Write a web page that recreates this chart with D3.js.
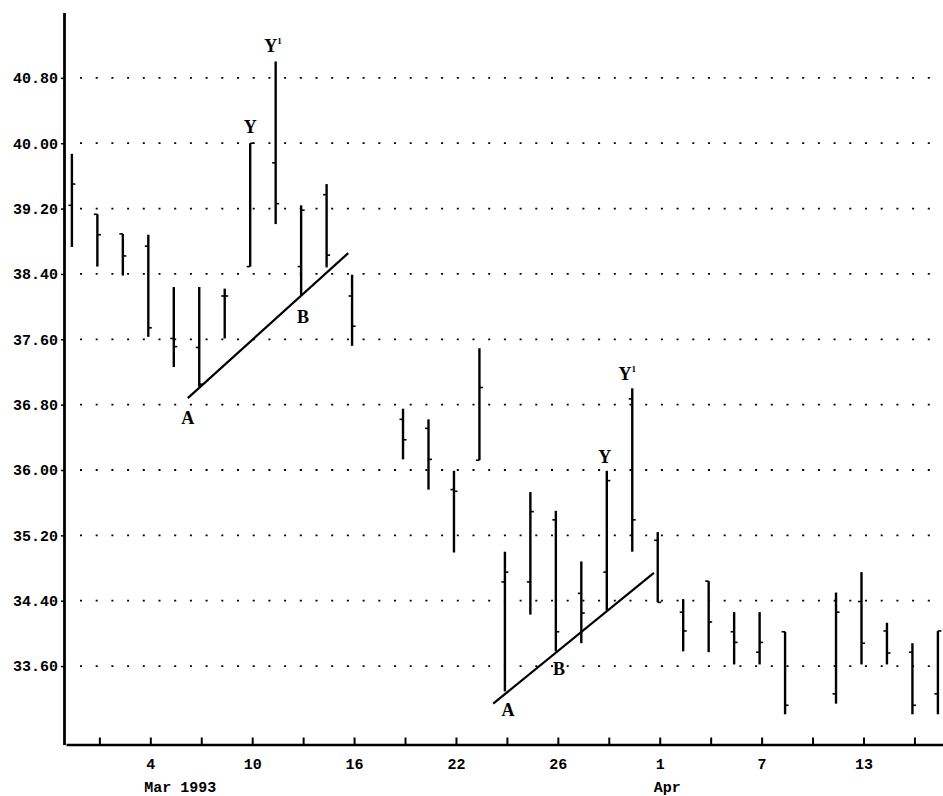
<!DOCTYPE html>
<html>
<head>
<meta charset="utf-8">
<script src="https://cdn.jsdelivr.net/npm/d3@7"></script>
<style>
  html, body { margin: 0; padding: 0; background: #fff; }
  svg { display: block; }
</style>
</head>
<body>
<script>
// ---- data ----
const dates = ["1993-03-01","1993-03-02","1993-03-03","1993-03-04","1993-03-05",
  "1993-03-08","1993-03-09","1993-03-10","1993-03-11","1993-03-12",
  "1993-03-15","1993-03-16","1993-03-18","1993-03-19",
  "1993-03-22","1993-03-23","1993-03-24","1993-03-25","1993-03-26",
  "1993-03-29","1993-03-30","1993-03-31","1993-04-01","1993-04-02",
  "1993-04-05","1993-04-06","1993-04-07","1993-04-08",
  "1993-04-12","1993-04-13","1993-04-14","1993-04-15","1993-04-16"];
const opens  = [39.24,39.13,38.89,38.74,37.61, 37.50,38.13,38.49,39.76,38.49, 39.37,38.13,36.62,36.51, 35.76,36.12,34.63,34.63,35.39, 34.49,34.75,36.87,35.14,34.26, 34.64,34.02,33.77,34.02, 33.26,34.39,34.03,33.77,33.26];
const highs  = [39.87,39.13,38.89,38.88,38.24, 38.24,38.22,40.00,41.00,39.24, 39.50,38.39,36.75,36.62, 35.99,37.49,35.00,35.73,35.50, 34.88,35.99,37.00,35.24,34.42, 34.64,34.26,34.26,34.02, 34.50,34.75,34.13,33.88,34.03];
const lows   = [38.73,38.49,38.38,37.63,37.26, 37.02,37.61,38.49,39.01,38.14, 38.48,37.52,36.13,35.76, 34.99,36.12,33.29,34.23,33.78, 33.88,34.28,35.00,34.38,33.78, 33.77,33.62,33.62,33.01, 33.14,33.62,33.62,33.01,33.01];
const closes = [39.50,38.88,38.62,37.74,37.51, 37.05,38.13,40.00,39.26,39.18, 38.63,37.76,36.37,36.13, 35.74,37.01,34.75,35.49,34.02, 34.25,35.87,35.39,34.38,34.03, 34.14,33.89,33.89,33.12, 34.26,33.88,33.76,33.12,34.03];

const yTicks = [33.60,34.40,35.20,36.00,36.80,37.60,38.40,39.20,40.00,40.80];
const xTickDates = ["1993-03-02","1993-03-04","1993-03-08","1993-03-10","1993-03-12","1993-03-16",
  "1993-03-18","1993-03-22","1993-03-24","1993-03-26","1993-03-30","1993-04-01","1993-04-05",
  "1993-04-07","1993-04-09","1993-04-13","1993-04-15"];
const xLabelDates = ["1993-03-04","1993-03-10","1993-03-16","1993-03-22","1993-03-26","1993-04-01","1993-04-07","1993-04-13"];
const xLabelTexts = ["4","10","16","22","26","1","7","13"];
const monthLabels = [{date:"1993-03-04", text:"Mar 1993"}, {date:"1993-04-01", text:"Apr"}];

// trend lines (start / end: date + fractional day offset, price)
const trendLines = [
  {d1:"1993-03-05", o1:0.55, p1:36.88, d2:"1993-03-15", o2:0.85, p2:38.655},
  {d1:"1993-03-23", o1:0.54, p1:33.14, d2:"1993-03-31", o2:0.85, p2:34.74}
];
// annotation labels
const notes = [
  {text:"A", date:"1993-03-05", off:0.55, price:36.56, sup:""},
  {text:"B", date:"1993-03-12", off:0.07, price:37.80, sup:""},
  {text:"Y", date:"1993-03-10", off:0,    price:40.12, sup:""},
  {text:"Y", date:"1993-03-11", off:-0.1, price:41.115, sup:"1"},
  {text:"A", date:"1993-03-24", off:0.12, price:32.99, sup:""},
  {text:"B", date:"1993-03-26", off:0.12, price:33.49, sup:""},
  {text:"Y", date:"1993-03-30", off:-0.08, price:36.08, sup:""},
  {text:"Y", date:"1993-03-31", off:-0.2, price:37.10, sup:"1"}
];

// ---- helpers ----
const parse = d3.utcParse("%Y-%m-%d");
const start = parse(dates[0]);
function dayIndex(s) {           // weekdays elapsed since the first date
  const dt = parse(s);
  let n = 0;
  for (let t = new Date(start); t < dt; t = d3.utcDay.offset(t, 1)) {
    const w = t.getUTCDay();
    if (w !== 0 && w !== 6) n++;
  }
  return n;
}
const bars = dates.map((d, i) => ({i: dayIndex(d), o: opens[i], h: highs[i], l: lows[i], c: closes[i]}));
const labelMap = new Map(xLabelDates.map((d, k) => [dayIndex(d), xLabelTexts[k]]));

// ---- drawing ----
const W = 943, H = 796;
const svg = d3.select("body").append("svg").attr("width", W).attr("height", H);

const x = d3.scaleLinear().domain([-0.31, 34.2]).range([64, 943]);
const y = d3.scaleLinear().domain([32.64, 41.6]).range([744.5, 12.5]);

const monoFont = "'Liberation Mono','Courier New',monospace";
const serifFont = "'Liberation Serif','Times New Roman',serif";

// dotted grid lines
svg.append("g").selectAll("line").data(yTicks).join("line")
  .attr("x1", 80).attr("x2", W)
  .attr("y1", d => y(d)).attr("y2", d => y(d))
  .attr("stroke", "#000").attr("stroke-width", 1.8)
  .attr("stroke-dasharray", "2,13.7");

// left axis
const gy = svg.append("g").attr("transform", `translate(${x.range()[0]},0)`)
  .call(d3.axisLeft(y).tickValues(yTicks).tickFormat(d3.format(".2f")).tickSize(3).tickSizeOuter(0).tickPadding(3));
gy.select(".domain").attr("stroke-width", 2.8);
gy.selectAll(".tick line").attr("stroke-width", 1.5);
gy.selectAll(".tick text").attr("font-family", monoFont).attr("font-weight", "bold")
  .attr("font-size", 15).attr("fill", "#000");

// bottom axis (ticks sit a hair to the right of the bars, as in the original)
const xt = x.copy().range(x.range().map(v => v + 2));
const gx = svg.append("g").attr("transform", `translate(0,${y.range()[0]})`)
  .call(d3.axisBottom(xt).tickValues(xTickDates.map(dayIndex)).tickSize(-7).tickSizeOuter(0).tickPadding(14)
    .tickFormat(d => labelMap.get(d) || ""));
gx.select(".domain").attr("stroke-width", 2.6);
gx.selectAll(".tick line").attr("stroke-width", 2);
gx.selectAll(".tick text").attr("font-family", monoFont).attr("font-weight", "bold")
  .attr("font-size", 15).attr("fill", "#000");

// month labels
svg.append("g").selectAll("text").data(monthLabels).join("text")
  .attr("x", d => xt(dayIndex(d.date)) - 6).attr("y", y.range()[0] + 47)
  .attr("font-family", monoFont).attr("font-weight", "bold").attr("font-size", 15)
  .text(d => d.text);

// OHLC bars
const gb = svg.append("g").attr("stroke", "#000");
gb.selectAll("line.hl").data(bars).join("line").attr("class", "hl")
  .attr("x1", d => x(d.i)).attr("x2", d => x(d.i))
  .attr("y1", d => y(d.h)).attr("y2", d => y(d.l))
  .attr("stroke-width", 2.4);
gb.selectAll("line.op").data(bars).join("line").attr("class", "op")
  .attr("x1", d => x(d.i) - 3.5).attr("x2", d => x(d.i))
  .attr("y1", d => y(d.o)).attr("y2", d => y(d.o))
  .attr("stroke-width", 1.6);
gb.selectAll("line.cl").data(bars).join("line").attr("class", "cl")
  .attr("x1", d => x(d.i)).attr("x2", d => x(d.i) + 3.5)
  .attr("y1", d => y(d.c)).attr("y2", d => y(d.c))
  .attr("stroke-width", 1.6);

// trend lines
svg.append("g").selectAll("line").data(trendLines).join("line")
  .attr("x1", d => x(dayIndex(d.d1) + d.o1)).attr("y1", d => y(d.p1))
  .attr("x2", d => x(dayIndex(d.d2) + d.o2)).attr("y2", d => y(d.p2))
  .attr("stroke", "#000").attr("stroke-width", 2.2);

// annotations
const nt = svg.append("g").selectAll("text").data(notes).join("text")
  .attr("x", d => x(dayIndex(d.date) + d.off)).attr("y", d => y(d.price))
  .attr("text-anchor", "middle")
  .attr("font-family", serifFont).attr("font-weight", "bold").attr("font-size", 18);
nt.append("tspan").text(d => d.text);
nt.filter(d => d.sup).append("tspan").attr("font-size", 9).attr("dy", -8).text(d => d.sup);
</script>
</body>
</html>
